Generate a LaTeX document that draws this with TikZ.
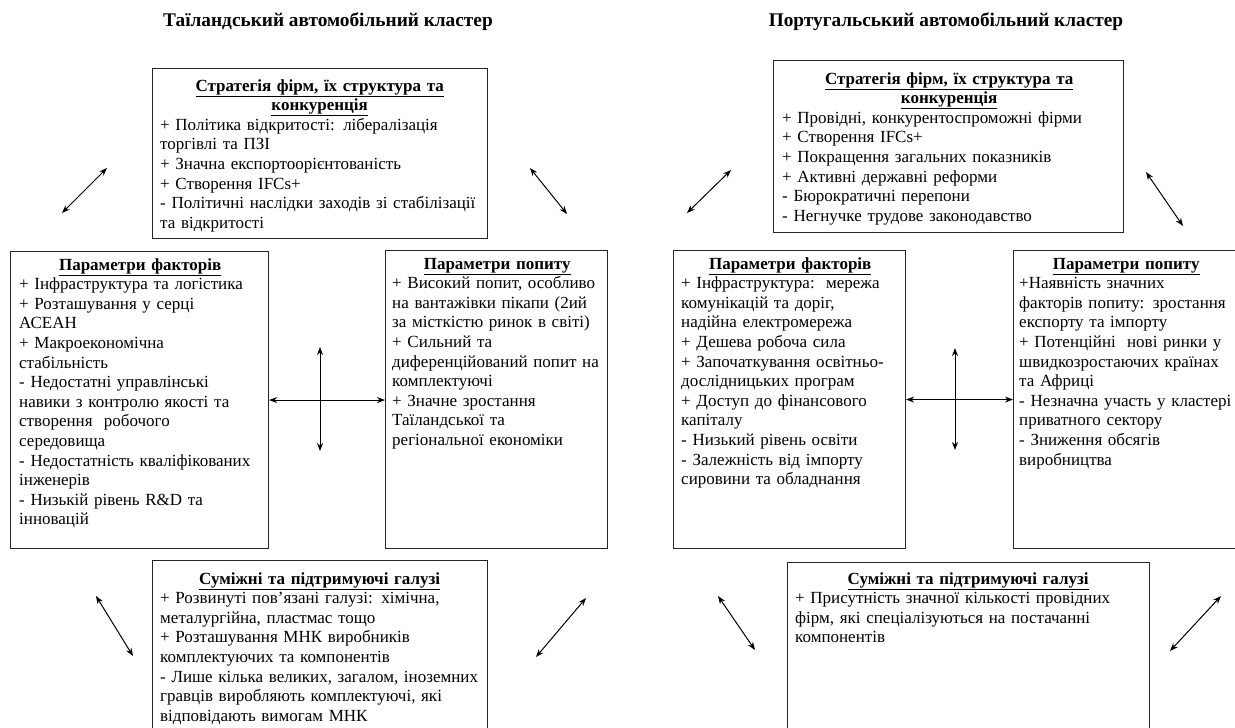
\documentclass[tikz,border=0pt]{standalone}
\usepackage{fontspec}
\setmainfont{Liberation Serif}
\usetikzlibrary{arrows.meta}
\newcommand{\hd}[1]{\textbf{\underline{#1}}}
\tikzset{
  box/.style={draw=black!85, line width=1.1pt, rectangle, inner sep=0pt, anchor=north west},
  txt/.style={anchor=base west, inner sep=0pt, align=left, font=\fontsize{17}{19.6}\selectfont},
  ttl/.style={anchor=base, inner sep=0pt, font=\fontsize{19.3}{22}\selectfont\bfseries},
  biarrow/.style={{Stealth[length=8pt,width=6pt]}-{Stealth[length=8pt,width=6pt]}, line width=1pt, draw=black}
}
\begin{document}
\begin{tikzpicture}[x=1pt,y=-1pt]
\useasboundingbox (0,0) rectangle (1235,728);
% titles
\node[ttl] (t1) at (328,27) {Таїландський автомобільний кластер};
\node[ttl] (t2) at (946,27) {Португальський автомобільний кластер};

% ---------- left cluster ----------
\node[box, minimum width=335, minimum height=170] (lt) at (152,68) {};
\node[txt, text width=319pt] (ltt) at ([xshift=8pt,yshift=-23pt]lt.north west) {%
{\centering\hd{Стратегія фірм, їх структура та}\\\hd{конкуренція}\par}
+ Політика відкритості: лібералізація\\
торгівлі та ПЗІ\\
+ Значна експортоорієнтованість\\
+ Створення IFCs+\\
- Політичні наслідки заходів зі стабілізації\\
та відкритості};

\node[box, minimum width=258, minimum height=297] (lf) at (10,251) {};
\node[txt, text width=242pt] (lft) at ([xshift=9pt,yshift=-19pt]lf.north west) {%
{\centering\hd{Параметри факторів}\par}
+ Інфраструктура та логістика\\
+ Розташування у серці\\
АСЕАН\\
+ Макроекономічна\\
стабільність\\
- Недостатні управлінські\\
навики з контролю якості та\\
створення\ \ робочого\\
середовища\\
- Недостатність кваліфікованих\\
інженерів\\
- Низькій рівень R\&D та\\
інновацій};

\node[box, minimum width=222, minimum height=298] (ld) at (385,250) {};
\node[txt, text width=210pt] (ldt) at ([xshift=7pt,yshift=-19pt]ld.north west) {%
{\centering\hd{Параметри попиту}\par}
+ Високий попит, особливо\\
на вантажівки пікапи (2ий\\
за місткістю ринок в світі)\\
+ Сильний та\\
диференційований попит на\\
комплектуючі\\
+ Значне зростання\\
Таїландської та\\
регіональної економіки};

\node[box, minimum width=335, minimum height=190] (lb) at (152,560) {};
\node[txt, text width=319pt] (lbt) at ([xshift=8pt,yshift=-24pt]lb.north west) {%
{\centering\hd{Суміжні та підтримуючі галузі}\par}
+ Розвинуті пов’язані галузі: хімічна,\\
металургійна, пластмас тощо\\
+ Розташування МНК виробників\\
комплектуючих та компонентів\\
- Лише кілька великих, загалом, іноземних\\
гравців виробляють комплектуючі, які\\
відповідають вимогам МНК};

% left connectors
\draw[biarrow] (lf.east) -- (lf.east -| ld.west);
\coordinate (lv1) at (320,347);
\coordinate (lv2) at (320,451);
\draw[biarrow] (lv1) -- (lv2);
\coordinate (la1) at (62,213); \coordinate (la2) at (107,168);
\draw[biarrow] (la1) -- (la2);
\coordinate (lb1) at (530,168); \coordinate (lb2) at (567,214);
\draw[biarrow] (lb1) -- (lb2);
\coordinate (lc1) at (96,596); \coordinate (lc2) at (133,656);
\draw[biarrow] (lc1) -- (lc2);
\coordinate (ld1) at (536,657); \coordinate (ld2) at (586,598);
\draw[biarrow] (ld1) -- (ld2);

% ---------- right cluster ----------
\node[box, minimum width=350, minimum height=172] (rt) at (773,60) {};
\node[txt, text width=334pt] (rtt) at ([xshift=9pt,yshift=-24pt]rt.north west) {%
{\centering\hd{Стратегія фірм, їх структура та}\\\hd{конкуренція}\par}
+ Провідні, конкурентоспроможні фірми\\
+ Створення IFCs+\\
+ Покращення загальних показників\\
+ Активні державні реформи\\
- Бюрократичні перепони\\
- Негнучке трудове законодавство};

\node[box, minimum width=232, minimum height=298] (rf) at (673,250) {};
\node[txt, text width=218pt] (rft) at ([xshift=8pt,yshift=-19pt]rf.north west) {%
{\centering\hd{Параметри факторів}\par}
+ Інфраструктура:\ \ мережа\\
комунікацій та доріг,\\
надійна електромережа\\
+ Дешева робоча сила\\
+ Започаткування освітньо-\\
дослідницьких програм\\
+ Доступ до фінансового\\
капіталу\\
- Низький рівень освіти\\
- Залежність від імпорту\\
сировини та обладнання};

\node[box, minimum width=240, minimum height=298] (rd) at (1013,250) {};
\node[txt, text width=214pt] (rdt) at ([xshift=6pt,yshift=-19pt]rd.north west) {%
{\centering\hd{Параметри попиту}\par}
+Наявність значних\\
факторів попиту: зростання\\
експорту та імпорту\\
+ Потенційні\ \ нові ринки у\\
швидкозростаючих країнах\\
та Африці\\
- Незначна участь у кластері\\
приватного сектору\\
- Зниження обсягів\\
виробництва};

\node[box, minimum width=362, minimum height=190] (rb) at (787,562) {};
\node[txt, text width=346pt] (rbt) at ([xshift=8pt,yshift=-22pt]rb.north west) {%
{\centering\hd{Суміжні та підтримуючі галузі}\par}
+ Присутність значної кількості провідних\\
фірм, які спеціалізуються на постачанні\\
компонентів};

% right connectors
\draw[biarrow] (rf.east) -- (rf.east -| rd.west);
\coordinate (rv1) at (955,348);
\coordinate (rv2) at (955,450);
\draw[biarrow] (rv1) -- (rv2);
\coordinate (ra1) at (687,213); \coordinate (ra2) at (731,170);
\draw[biarrow] (ra1) -- (ra2);
\coordinate (rb1) at (1146,172); \coordinate (rb2) at (1183,226);
\draw[biarrow] (rb1) -- (rb2);
\coordinate (rc1) at (718,596); \coordinate (rc2) at (755,650);
\draw[biarrow] (rc1) -- (rc2);
\coordinate (rd1) at (1170,651); \coordinate (rd2) at (1221,596);
\draw[biarrow] (rd1) -- (rd2);
\end{tikzpicture}
\end{document}
